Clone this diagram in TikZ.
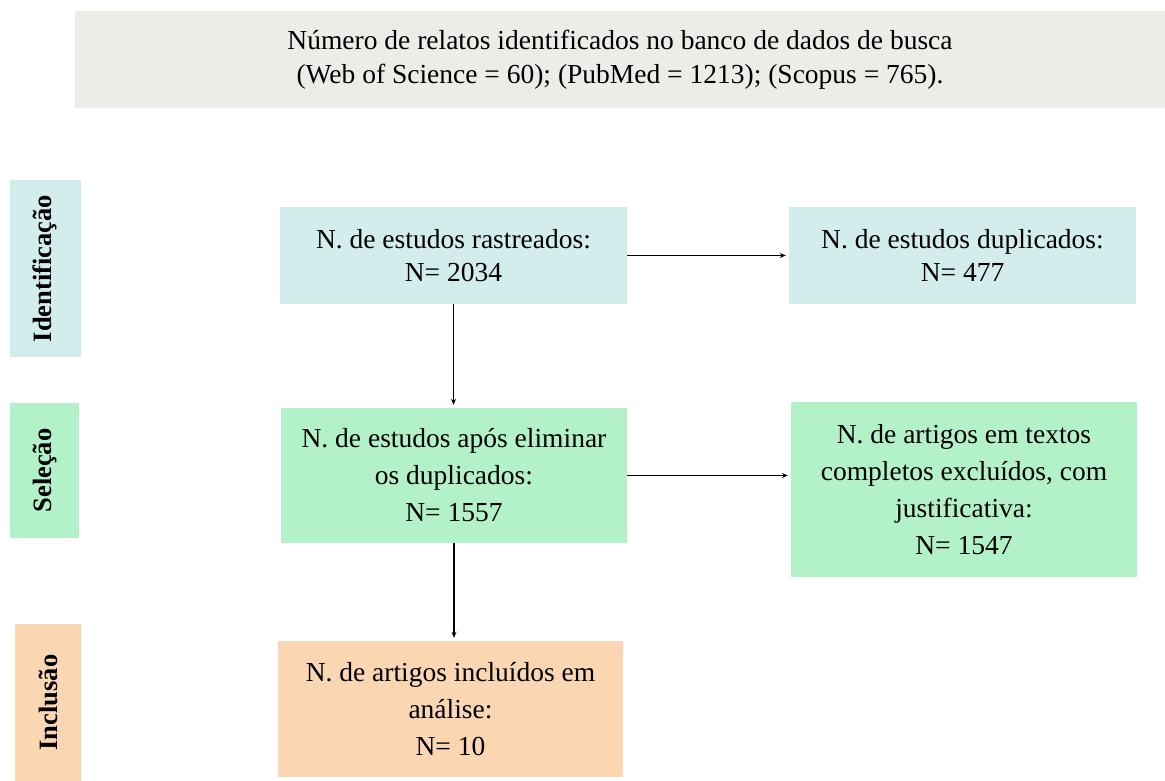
\documentclass[tikz,border=0pt]{standalone}
\usepackage{fontspec}
\setmainfont{Liberation Serif}
\usetikzlibrary{arrows.meta}
\definecolor{greyc}{HTML}{EEECE9}
\definecolor{cyanc}{HTML}{D3ECEC}
\definecolor{greenc}{HTML}{B3F2C8}
\definecolor{peachc}{HTML}{FAD6B3}
\begin{document}
\begin{tikzpicture}[x=1pt,y=-1pt,
  box/.style={inner sep=0pt, align=center, font=\fontsize{27.5}{37}\selectfont},
  label/.style={inner sep=0pt, rotate=90, font=\fontsize{26.5}{30}\selectfont\bfseries},
  conn/.style={line width=1.4pt, -{Stealth[length=6pt,width=5pt]}, shorten >=3pt}]
\useasboundingbox (0,0) rectangle (1165,781);
\node[box, fill=greyc, minimum width=1090pt, minimum height=97pt, font=\fontsize{27.5}{34}\selectfont] (top) at (620,59.5)
  {Número de relatos identificados no banco de dados de busca\\(Web of Science = 60); (PubMed = 1213); (Scopus = 765).};
\node[label, fill=cyanc, minimum width=177pt, minimum height=71pt] (lid) at (45,268.5) {Identificação};
\node[label, fill=greenc, minimum width=135pt, minimum height=69pt] (lsel) at (44.5,470.5) {Seleção};
\node[label, fill=peachc, minimum width=157pt, minimum height=66pt] (linc) at (48,702.5) {Inclusão};
\node[box, fill=cyanc, minimum width=347pt, minimum height=97pt, font=\fontsize{27.5}{33}\selectfont] (r) at (453.5,255.5)
  {N. de estudos rastreados:\\N= 2034};
\node[box, fill=cyanc, minimum width=347pt, minimum height=97pt, font=\fontsize{27.5}{33}\selectfont] (d) at (962.5,255.5)
  {N. de estudos duplicados:\\N= 477};
\node[box, fill=greenc, minimum width=346pt, minimum height=135pt] (a) at (454,475.5)
  {N. de estudos após eliminar\\os duplicados:\\N= 1557};
\node[box, fill=greenc, minimum width=346pt, minimum height=175pt] (e) at (964,489.5)
  {N. de artigos em textos\\completos excluídos, com\\justificativa:\\N= 1547};
\node[box, fill=peachc, minimum width=345pt, minimum height=136pt] (i) at (450.5,709)
  {N. de artigos incluídos em\\análise:\\N= 10};
\draw[conn] (r.east) -- (r.east -| d.west);
\draw[conn] (r.south) -- (r.south |- a.north);
\draw[conn] (a.east) -- (a.east -| e.west);
\draw[conn] (a.south) -- (a.south |- i.north);
\end{tikzpicture}
\end{document}
